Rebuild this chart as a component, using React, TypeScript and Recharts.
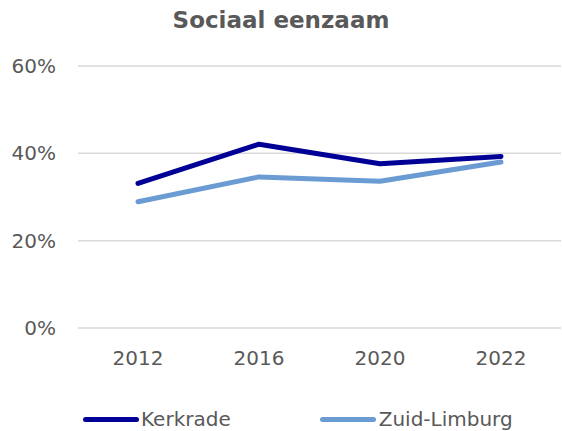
import React from "react";
import { LineChart, Line, XAxis, YAxis, CartesianGrid, Legend } from "recharts";

const years = ["2012", "2016", "2020", "2022"];
const kerkrade = [33.1, 42.1, 37.6, 39.3];
const zuidLimburg = [28.9, 34.6, 33.6, 38.0];
const yTicks = [0, 20, 40, 60];

const data = years.map((y, i) => ({ year: y, Kerkrade: kerkrade[i], "Zuid-Limburg": zuidLimburg[i] }));

const FONT = "'DejaVu Sans', sans-serif";
const GREY = "#595959";
const DARK = "#000096";
const LIGHT = "#6b9bd3";

const LegendContent = () => (
  <div style={{ display: "flex", alignItems: "center", fontFamily: FONT, fontSize: 20, color: GREY, paddingLeft: 83, paddingTop: 26 }}>
    <div style={{ display: "flex", alignItems: "center" }}>
      <div style={{ width: 56, height: 5, borderRadius: 3, background: DARK }} />
      <span style={{ marginLeft: 2 }}>Kerkrade</span>
    </div>
    <div style={{ display: "flex", alignItems: "center", marginLeft: 89 }}>
      <div style={{ width: 56, height: 5, borderRadius: 3, background: LIGHT }} />
      <span style={{ marginLeft: 3 }}>Zuid-Limburg</span>
    </div>
  </div>
);

export default function App() {
  return (
    <div style={{ position: "absolute", left: 0, top: 0, width: 562, height: 431, background: "#fff", overflow: "hidden" }}>
      <div
        style={{
          position: "absolute",
          top: 7,
          left: 0,
          width: 562,
          textAlign: "center",
          fontFamily: FONT,
          fontWeight: "bold",
          fontSize: 23,
          color: GREY,
        }}
      >
        Sociaal eenzaam
      </div>
      <LineChart width={562} height={431} data={data} margin={{ top: 66, right: 1, left: 0, bottom: 0 }}>
        <CartesianGrid vertical={false} stroke="#d9d9d9" strokeWidth={1.5} />
        <XAxis
          dataKey="year"
          axisLine={false}
          tickLine={false}
          height={53}
          tickMargin={17}
          padding={{ left: 60, right: 60 }}
          tick={{ fill: GREY, fontSize: 20, fontFamily: FONT }}
        />
        <YAxis
          domain={[0, 60]}
          ticks={yTicks}
          width={78}
          axisLine={false}
          tickLine={false}
          tickMargin={16}
          tickFormatter={(v: number) => `${v}%`}
          tick={{ fill: GREY, fontSize: 20, fontFamily: FONT }}
        />
        <Legend verticalAlign="bottom" height={50} content={<LegendContent />} />
        <Line
          type="linear"
          dataKey="Kerkrade"
          stroke={DARK}
          strokeWidth={5}
          strokeLinecap="round"
          strokeLinejoin="round"
          dot={false}
          isAnimationActive={false}
        />
        <Line
          type="linear"
          dataKey="Zuid-Limburg"
          stroke={LIGHT}
          strokeWidth={5}
          strokeLinecap="round"
          strokeLinejoin="round"
          dot={false}
          isAnimationActive={false}
        />
      </LineChart>
    </div>
  );
}
